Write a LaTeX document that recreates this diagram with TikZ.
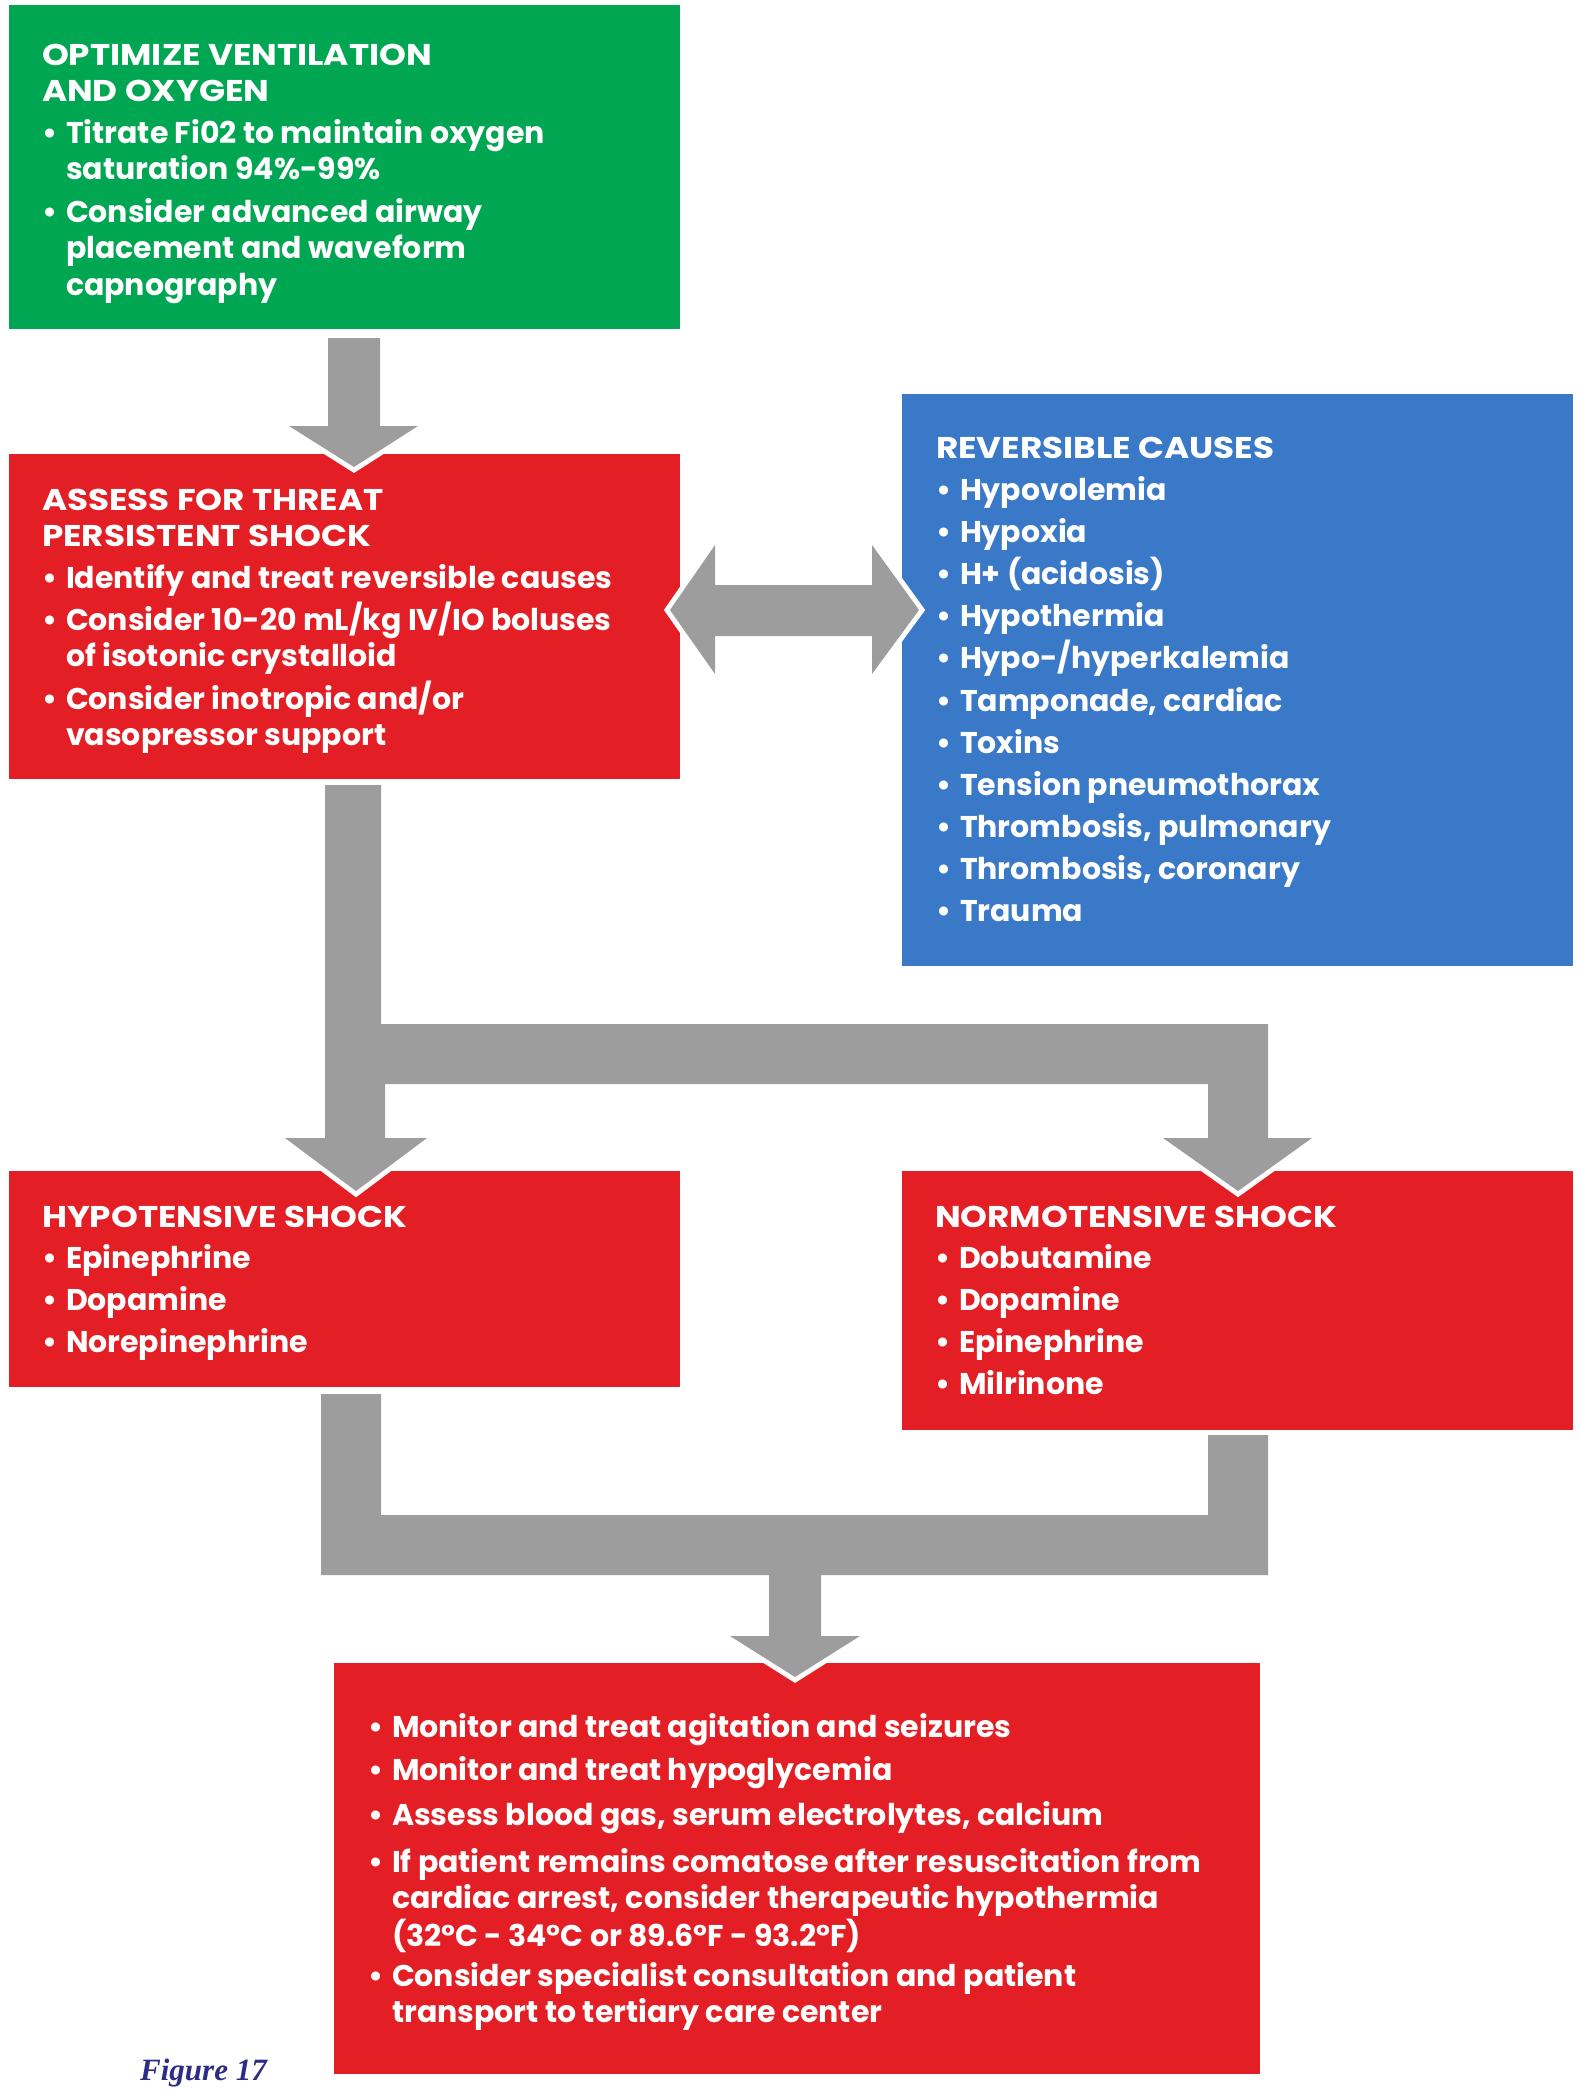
\documentclass[tikz,border=0pt]{standalone}
\usepackage{graphicx}
\usepackage{fontspec}
\setmainfont{Poppins}
\newfontfamily\figfont{Liberation Serif}
\definecolor{boxgreen}{HTML}{00A651}
\definecolor{boxred}{HTML}{E31E24}
\definecolor{boxblue}{HTML}{3A79C8}
\definecolor{arrowgray}{HTML}{9D9D9D}
\definecolor{figblue}{HTML}{2E2C84}
\tikzset{
  box/.style={anchor=north west, inner sep=0pt, outer sep=0pt, draw=none},
  txt/.style={anchor=base west, inner sep=0pt, outer sep=0pt, text=white,
    font=\bfseries\fontsize{30}{36.5}\selectfont},
  flow/.style={fill=arrowgray, preaction={draw=white, line width=10pt, line join=miter}}
}
\newcommand\boxitem[4]{\node[txt] (#1) at (#2,#3) {\begin{tabular}[t]{@{}p{24pt}@{}l@{}}\textbullet & #4\end{tabular}};}
\newcommand\boxhead[4]{\node[txt] (#1) at (#2,#3) {\scalebox{1.14}[1]{\begin{tabular}[t]{@{}l@{}}#4\end{tabular}}};}
\begin{document}
\begin{tikzpicture}[x=1pt,y=-1pt]
\useasboundingbox (0,0) rectangle (1581,2094);
% boxes
\node[box, fill=boxgreen, minimum width=671pt, minimum height=324pt] (opt) at (9,5) {};
\node[box, fill=boxred, minimum width=671pt, minimum height=325pt] (assess) at (9,454) {};
\node[box, fill=boxblue, minimum width=671pt, minimum height=572pt] (rev) at (902,394) {};
\node[box, fill=boxred, minimum width=671pt, minimum height=216pt] (hypo) at (9,1171) {};
\node[box, fill=boxred, minimum width=671pt, minimum height=259pt] (normo) at (902,1171) {};
\node[box, fill=boxred, minimum width=926pt, minimum height=411pt] (post) at (334,1663) {};
% connectors
\path[flow] (328,338) -- (380,338) -- (380,426) -- (418,426) -- (354,467) -- (289,426) -- (328,426) -- cycle;
\path[flow] (670,610) -- (715,545) -- (715,585) -- (872,585) -- (872,545) -- (919,610)
  -- (872,674) -- (872,636) -- (715,636) -- (715,674) -- cycle;
\path[flow] (325,785) -- (381,785) -- (381,1024) -- (1268,1024) -- (1268,1138) -- (1312,1138)
  -- (1238,1191) -- (1163,1138) -- (1208,1138) -- (1208,1084) -- (385,1084) -- (385,1138)
  -- (427,1138) -- (356,1191) -- (285,1138) -- (325,1138) -- cycle;
\path[flow] (321,1394) -- (381,1394) -- (381,1515) -- (1208,1515) -- (1208,1435) -- (1268,1435)
  -- (1268,1575) -- (821,1575) -- (821,1636) -- (860,1636) -- (795,1677) -- (730,1636)
  -- (769,1636) -- (769,1575) -- (321,1575) -- cycle;
% green box text
\boxhead{optt}{42}{65}{OPTIMIZE VENTILATION\\AND OXYGEN}
\boxitem{opta}{42}{143}{Titrate Fi02 to maintain oxygen\\ & saturation 94\%-99\%}
\boxitem{optb}{42}{222}{Consider advanced airway\\ & placement and waveform\\ & capnography}
% assess box text
\boxhead{asst}{42}{510}{ASSESS FOR THREAT\\PERSISTENT SHOCK}
\boxitem{assa}{42}{588}{Identify and treat reversible causes}
\boxitem{assb}{42}{630}{Consider 10-20 mL/kg IV/IO boluses\\ & of isotonic crystalloid}
\boxitem{assc}{42}{709}{Consider inotropic and/or\\ & vasopressor support}
% reversible causes
\boxhead{revt}{936}{458}{REVERSIBLE CAUSES}
\boxitem{rev1}{936}{500.5}{Hypovolemia}
\boxitem{rev2}{936}{542.6}{Hypoxia}
\boxitem{rev3}{936}{584.7}{H+ (acidosis)}
\boxitem{rev4}{936}{626.8}{Hypothermia}
\boxitem{rev5}{936}{668.9}{Hypo-/hyperkalemia}
\boxitem{rev6}{936}{711.0}{Tamponade, cardiac}
\boxitem{rev7}{936}{753.1}{Toxins}
\boxitem{rev8}{936}{795.2}{Tension pneumothorax}
\boxitem{rev9}{936}{837.3}{Thrombosis, pulmonary}
\boxitem{rev10}{936}{879.4}{Thrombosis, coronary}
\boxitem{rev11}{936}{921.5}{Trauma}
% hypotensive
\boxhead{hypot}{42}{1227}{HYPOTENSIVE SHOCK}
\boxitem{hypo1}{42}{1268.5}{Epinephrine}
\boxitem{hypo2}{42}{1310.5}{Dopamine}
\boxitem{hypo3}{42}{1352.5}{Norepinephrine}
% normotensive
\boxhead{normot}{935}{1227}{NORMOTENSIVE SHOCK}
\boxitem{normo1}{935}{1268.5}{Dobutamine}
\boxitem{normo2}{935}{1310.5}{Dopamine}
\boxitem{normo3}{935}{1352.5}{Epinephrine}
\boxitem{normo4}{935}{1394.5}{Milrinone}
% post box
\boxitem{post1}{368}{1737}{Monitor and treat agitation and seizures}
\boxitem{post2}{368}{1780}{Monitor and treat hypoglycemia}
\boxitem{post3}{368}{1825}{Assess blood gas, serum electrolytes, calcium}
\boxitem{post4}{368}{1872}{If patient remains comatose after resuscitation from\\ & cardiac arrest, consider therapeutic hypothermia\\ & (32°C - 34°C or 89.6°F - 93.2°F)}
\boxitem{post5}{368}{1986}{Consider specialist consultation and patient\\ & transport to tertiary care center}
% figure label
\node[anchor=base west, inner sep=0pt, text=figblue, font=\figfont\bfseries\itshape\fontsize{31}{36}\selectfont] (fig) at (140,2080) {Figure 17};
\end{tikzpicture}
\end{document}
